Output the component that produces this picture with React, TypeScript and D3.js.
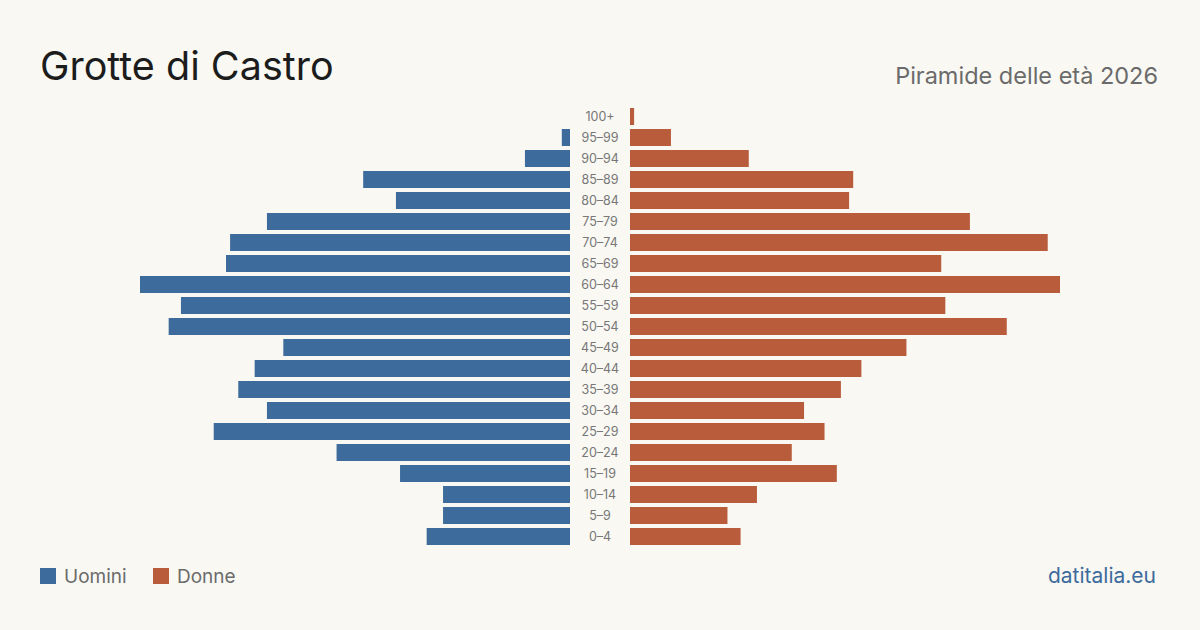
import React from "react"
import * as d3 from "d3"

const ageGroups = [
  "100+", "95-99", "90-94", "85-89", "80-84", "75-79", "70-74", "65-69", "60-64", "55-59",
  "50-54", "45-49", "40-44", "35-39", "30-34", "25-29", "20-24", "15-19", "10-14", "5-9", "0-4",
]
const men = [0, 2, 11, 50.5, 42.5, 74, 83, 84, 105, 95, 98, 70, 77, 81, 74, 87, 57, 41.5, 31, 31, 35]
const women = [1, 10, 29, 54.5, 53.5, 83, 102, 76, 105, 77, 92, 67.5, 56.5, 51.5, 42.5, 47.5, 39.5, 50.5, 31, 23.8, 27]

const W = 1200
const H = 630
const BLUE = "#3d6b9c"
const ORANGE = "#b95c3c"
const FONT = "Inter, 'Noto Sans', sans-serif"

export default function App() {
  const maxVal = d3.max([...men, ...women]) as number
  const xLeft = d3.scaleLinear().domain([0, maxVal]).range([0, 430])
  const xRight = d3.scaleLinear().domain([0, maxVal]).range([0, 430])
  const y = d3
    .scaleBand()
    .domain(ageGroups)
    .range([106, 547])
    .paddingInner(4 / 21)
    .paddingOuter(2 / 21)

  const leftEdge = 570
  const rightEdge = 630

  return (
    <svg width={W} height={H} style={{ position: "absolute", left: 0, top: 0, display: "block" }}>
      <rect width={W} height={H} fill="#f9f8f3" />
      <text x={40} y={80} fontFamily={FONT} fontSize={39.5} fill="#1c1c1c">
        Grotte di Castro
      </text>
      <text x={1158} y={84} textAnchor="end" fontFamily={FONT} fontSize={23.5} fill="#6b6b6b">
        Piramide delle età 2026
      </text>

      {ageGroups.map((g, i) => (
        <g key={g}>
          {men[i] > 0 && (
            <rect
              x={leftEdge - xLeft(men[i])}
              y={y(g)}
              width={xLeft(men[i])}
              height={y.bandwidth()}
              fill={BLUE}
            />
          )}
          {women[i] > 0 && (
            <rect x={rightEdge} y={y(g)} width={xRight(women[i])} height={y.bandwidth()} fill={ORANGE} />
          )}
          <text
            x={600}
            y={(y(g) as number) + y.bandwidth() / 2}
            dy="0.35em"
            textAnchor="middle"
            fontFamily={FONT}
            fontSize={12.5}
            fill="#777"
          >
            {g.replace("-", "–")}
          </text>
        </g>
      ))}

      <rect x={40} y={568} width={16} height={16} fill={BLUE} />
      <text x={64} y={583} fontFamily={FONT} fontSize={19} fill="#6b6b6b">
        Uomini
      </text>
      <rect x={153} y={568} width={16} height={16} fill={ORANGE} />
      <text x={177} y={583} fontFamily={FONT} fontSize={19} fill="#6b6b6b">
        Donne
      </text>
      <text x={1156} y={583} textAnchor="end" fontFamily={FONT} fontSize={21} fill="#3d6b9c">
        datitalia.eu
      </text>
    </svg>
  )
}
